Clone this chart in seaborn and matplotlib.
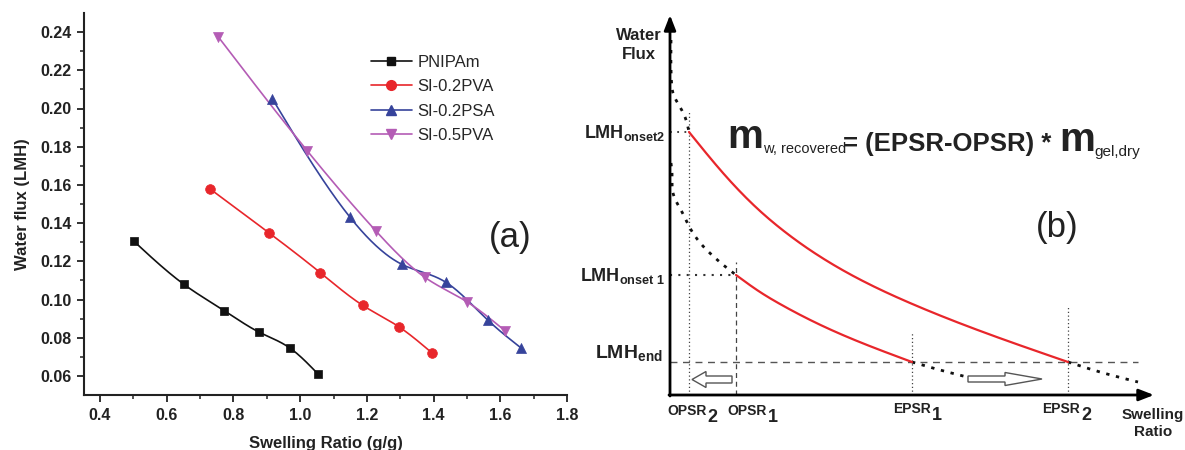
import numpy as np
import pandas as pd
import matplotlib
matplotlib.use("Agg")
import matplotlib.pyplot as plt
import seaborn as sns
from matplotlib.lines import Line2D
from matplotlib.patches import FancyArrow

# ---------------- panel (a): water flux vs swelling ratio ----------------
series_names = ["PNIPAm", "SI-0.2PVA", "SI-0.2PSA", "SI-0.5PVA"]
pnipam_x = [0.501, 0.651, 0.772, 0.877, 0.970, 1.054]
pnipam_y = [0.1306, 0.1080, 0.0942, 0.0829, 0.0745, 0.0609]
pva02_x = [0.729, 0.908, 1.060, 1.187, 1.297, 1.394]
pva02_y = [0.1580, 0.1347, 0.1141, 0.0970, 0.0856, 0.0722]
psa02_x = [0.917, 1.148, 1.305, 1.437, 1.562, 1.661]
psa02_y = [0.2050, 0.1434, 0.1184, 0.1090, 0.0893, 0.0748]
pva05_x = [0.755, 1.021, 1.227, 1.374, 1.499, 1.615]
pva05_y = [0.2374, 0.1779, 0.1359, 0.1116, 0.0989, 0.0835]
x_ticks = [0.4, 0.6, 0.8, 1.0, 1.2, 1.4, 1.6, 1.8]
y_ticks = [0.06, 0.08, 0.10, 0.12, 0.14, 0.16, 0.18, 0.20, 0.22, 0.24]

# ---------------- panel (b): schematic ----------------
opsr = [0.66, 0.19]          # OPSR1, OPSR2
epsr = [2.42, 3.98]          # EPSR1, EPSR2
lmh_onset = [1.20, 2.63]     # LMH onset 1, LMH onset 2
lmh_end = 0.33
red_upper_x = [0.19, 0.53, 0.90, 1.10, 2.40, 3.98]
red_upper_y = [2.63, 2.22, 1.84, 1.67, 0.92, 0.33]
red_lower_x = [0.66, 0.90, 1.10, 1.57, 2.42]
red_lower_y = [1.20, 1.03, 0.91, 0.67, 0.33]
dot_a_x = [0.01, 0.015, 0.03, 0.10, 0.15, 0.19]
dot_a_y = [3.55, 3.13, 3.02, 2.88, 2.78, 2.63]
dot_a2_x = [3.98, 4.30, 4.68]
dot_a2_y = [0.33, 0.23, 0.13]
dot_b_x = [0.01, 0.02, 0.03, 0.12, 0.20, 0.32, 0.43, 0.57, 0.66]
dot_b_y = [2.32, 2.22, 2.02, 1.83, 1.67, 1.50, 1.39, 1.27, 1.20]
dot_b2_x = [2.42, 2.70, 2.97]
dot_b2_y = [0.33, 0.25, 0.18]

sns.set_style("white")
plt.rcParams["font.family"] = ["Liberation Sans", "DejaVu Sans"]
plt.rcParams["mathtext.fontset"] = "custom"
plt.rcParams["mathtext.rm"] = "Liberation Sans"
plt.rcParams["mathtext.bf"] = "Liberation Sans:bold"
plt.rcParams["mathtext.it"] = "Liberation Sans:italic"


def natural_spline(x, y, n=200):
    x = np.asarray(x, float)
    y = np.asarray(y, float)
    k = len(x)
    h = np.diff(x)
    A = np.zeros((k, k))
    r = np.zeros(k)
    A[0, 0] = A[-1, -1] = 1.0
    for i in range(1, k - 1):
        A[i, i - 1] = h[i - 1]
        A[i, i] = 2 * (h[i - 1] + h[i])
        A[i, i + 1] = h[i]
        r[i] = 6 * ((y[i + 1] - y[i]) / h[i] - (y[i] - y[i - 1]) / h[i - 1])
    M = np.linalg.solve(A, r)
    xs = np.linspace(x[0], x[-1], n)
    idx = np.clip(np.searchsorted(x, xs) - 1, 0, k - 2)
    x0, x1 = x[idx], x[idx + 1]
    hh = x1 - x0
    t0, t1 = x1 - xs, xs - x0
    ys = ((M[idx] * t0 ** 3 + M[idx + 1] * t1 ** 3) / (6 * hh)
          + (y[idx] / hh - M[idx] * hh / 6) * t0
          + (y[idx + 1] / hh - M[idx + 1] * hh / 6) * t1)
    return xs, ys


def parametric_spline(x, y, n=200):
    x = np.asarray(x, float)
    y = np.asarray(y, float)
    t = np.concatenate([[0], np.cumsum(np.hypot(np.diff(x), np.diff(y)))])
    _, xs = natural_spline(t, x, n)
    _, ys = natural_spline(t, y, n)
    return xs, ys


fig = plt.figure(figsize=(11.85, 4.5), dpi=100)
fig.patch.set_facecolor("white")

# ======================= panel (a) =======================
ax = fig.add_axes([84 / 1185, 55 / 450, (567 - 84) / 1185, (395 - 13) / 450])
colors = ["#111111", "#e8262b", "#36439b", "#b45cb5"]
markers = ["s", "o", "^", "v"]
msizes = [6.0, 7.0, 7.2, 7.2]
xs_all = [pnipam_x, pva02_x, psa02_x, pva05_x]
ys_all = [pnipam_y, pva02_y, psa02_y, pva05_y]

curves = []
for name, xv, yv in zip(series_names, xs_all, ys_all):
    sx, sy = natural_spline(xv, yv)
    curves.append(pd.DataFrame({"x": sx, "y": sy, "series": name}))
curve_df = pd.concat(curves, ignore_index=True)
sns.lineplot(data=curve_df, x="x", y="y", hue="series", palette=colors,
             hue_order=series_names, sort=False, lw=1.2, legend=False, ax=ax)
for name, xv, yv, c, m, ms in zip(series_names, xs_all, ys_all, colors, markers, msizes):
    sns.scatterplot(x=xv, y=yv, color=c, marker=m, s=ms ** 2, edgecolor=c,
                    linewidth=0.5, zorder=3, legend=False, ax=ax)

ax.set_xlim(0.352, 1.8)
ax.set_ylim(0.05, 0.25)
ax.set_xticks(x_ticks)
ax.set_yticks(y_ticks)
ax.set_xticks(np.arange(0.5, 1.8, 0.2), minor=True)
ax.set_yticks(np.arange(0.07, 0.25, 0.02), minor=True)
ax.set_xticklabels([f"{v:.1f}" for v in x_ticks])
ax.set_yticklabels([f"{v:.2f}" for v in y_ticks])
for s in ["top", "right"]:
    ax.spines[s].set_visible(False)
for s in ["left", "bottom"]:
    ax.spines[s].set_linewidth(1.5)
    ax.spines[s].set_color("#222222")
ax.tick_params(which="major", direction="out", length=5, width=1.3, color="#222222",
               labelsize=11.5, pad=4, left=True, bottom=True)
ax.tick_params(which="minor", direction="out", length=3, width=1.1, color="#222222",
               left=True, bottom=True)
for lab in ax.get_xticklabels() + ax.get_yticklabels():
    lab.set_fontweight("bold")
    lab.set_color("#222222")
ax.set_xlabel("Swelling Ratio (g/g)", fontsize=12, fontweight="bold", labelpad=10, color="#222222")
ax.set_ylabel("Water flux (LMH)", fontsize=12, fontweight="bold", labelpad=7, color="#222222")
ax.text(510, 213, "(a)", transform=None, fontsize=25, ha="center", va="center", color="#222222")

handles = [Line2D([], [], color=c, marker=m, markersize=ms, lw=1.2, markeredgecolor=c)
           for c, m, ms in zip(colors, markers, msizes)]
ax.legend(handles, series_names, loc="upper left", bbox_to_anchor=(371 / 1185, 1 - 55 / 450),
          bbox_transform=fig.transFigure, frameon=False, fontsize=12, handlelength=2.45,
          handletextpad=0.35, labelspacing=0.56, borderpad=0, borderaxespad=0)

# ======================= panel (b) =======================
bx = fig.add_axes([580 / 1185, 0, 605 / 1185, 1])
bx.set_xlim(-0.90, 5.15)
bx.set_ylim(-0.55, 3.95)
bx.axis("off")

# axes with arrow heads
bx.annotate("", xy=(4.84, 0), xytext=(-0.01, 0),
            arrowprops=dict(arrowstyle="-|>,head_length=0.9,head_width=0.35", lw=2, color="black",
                            shrinkA=0, shrinkB=0))
bx.annotate("", xy=(0, 3.80), xytext=(0, -0.01),
            arrowprops=dict(arrowstyle="-|>,head_length=0.9,head_width=0.35", lw=2, color="black",
                            shrinkA=0, shrinkB=0))

ref_kw = dict(color="#444444", lw=0.9, ls=(0, (1, 2)))
# vertical guides
bx.plot([opsr[1], opsr[1]], [0, 2.83], **ref_kw)
bx.plot([opsr[0], opsr[0]], [0, 1.33], color="#444444", lw=0.9, ls=(0, (4, 3)))
bx.plot([epsr[0], epsr[0]], [0, 0.62], **ref_kw)
bx.plot([epsr[1], epsr[1]], [0, 0.90], **ref_kw)
# horizontal guides
bx.plot([0, 4.68], [lmh_end, lmh_end], color="#555555", lw=1.0, ls=(0, (5, 4)))
bx.plot([0, opsr[1]], [lmh_onset[1], lmh_onset[1]], color="#333333", lw=1.3, ls=(0, (1, 3)))
bx.plot([0, opsr[0]], [lmh_onset[0], lmh_onset[0]], color="#333333", lw=1.5, ls=(0, (1, 3)))

# black dotted extensions of the flux curves
dot_kw = dict(color="#111111", lw=2.0, ls=(0, (1.2, 2.4)))
for xv, yv in [(dot_a_x, dot_a_y), (dot_a2_x, dot_a2_y), (dot_b_x, dot_b_y), (dot_b2_x, dot_b2_y)]:
    px, py = parametric_spline(xv, yv)
    bx.plot(px, py, **dot_kw)

# red recovery curves
for xv, yv in [(red_upper_x, red_upper_y), (red_lower_x, red_lower_y)]:
    sx, sy = natural_spline(xv, yv)
    sns.lineplot(x=sx, y=sy, sort=False, color="#e8262b", lw=1.6, ax=bx)

# hollow direction arrows
bx.add_patch(FancyArrow(0.62, 0.155, -0.40, 0, width=0.07, head_width=0.16, head_length=0.14,
                        length_includes_head=True, fc="white", ec="#555555", lw=1.0))
bx.add_patch(FancyArrow(2.98, 0.16, 0.74, 0, width=0.06, head_width=0.13, head_length=0.37,
                        length_includes_head=True, fc="white", ec="#555555", lw=1.0))

# axis titles
bx.text(-0.31, 3.50, "Water\nFlux", fontsize=12, fontweight="bold", ha="center", va="center",
        multialignment="center", linespacing=1.35, color="#222222")
bx.text(4.83, -0.285, "Swelling\nRatio", fontsize=11, fontweight="bold", ha="center", va="center",
        multialignment="center", linespacing=1.3, color="#222222")

# LMH level labels
bx.text(-0.05, lmh_onset[1] - 0.06, r"$\mathbf{LMH}_{\mathbf{onset2}}$", fontsize=13,
        ha="right", va="baseline", color="#222222")
bx.text(-0.05, lmh_onset[0] - 0.06, r"$\mathbf{LMH}_{\mathbf{onset\ 1}}$", fontsize=13,
        ha="right", va="baseline", color="#222222")
bx.text(-0.07, 0.37, r"$\mathbf{LMH}_{\mathbf{end}}$", fontsize=14,
        ha="right", va="baseline", color="#222222")


def sub_label(x, y, main, sub):
    t = bx.text(x, y, main, fontsize=10, fontweight="bold", ha="left", va="baseline", color="#222222")
    bx.annotate(sub, xy=(1, 0), xycoords=t, xytext=(1, -6), textcoords="offset points",
                fontsize=13, fontweight="bold", ha="left", va="bottom", color="#222222")


sub_label(-0.03, -0.20, "OPSR", "2")
sub_label(0.57, -0.20, "OPSR", "1")
sub_label(2.23, -0.18, "EPSR", "1")
sub_label(3.72, -0.18, "EPSR", "2")

# recovered-water relation
t1 = bx.text(0.57, 2.47, "m", fontsize=29, fontweight="bold", ha="left", va="baseline", color="#222222")
t2 = bx.annotate("w, recovered", xy=(1, 0), xycoords=t1, xytext=(0, 0), textcoords="offset points",
                 fontsize=10.5, ha="left", va="bottom", color="#222222")
t3 = bx.annotate("= (EPSR-OPSR) * ", xy=(1, 0), xycoords=t2, xytext=(-2, 0), textcoords="offset points",
                 fontsize=18.5, fontweight="bold", ha="left", va="bottom", color="#222222")
t4 = bx.annotate("m", xy=(1, 0), xycoords=t3, xytext=(0, -2), textcoords="offset points",
                 fontsize=29, fontweight="bold", ha="left", va="bottom", color="#222222")
bx.annotate("gel,dry", xy=(1, 0), xycoords=t4, xytext=(0, 0), textcoords="offset points",
            fontsize=11, ha="left", va="bottom", color="#222222")

bx.text(1057, 222, "(b)", transform=None, fontsize=25, ha="center", va="center", color="#222222")

fig.savefig("out.png", dpi=100)
